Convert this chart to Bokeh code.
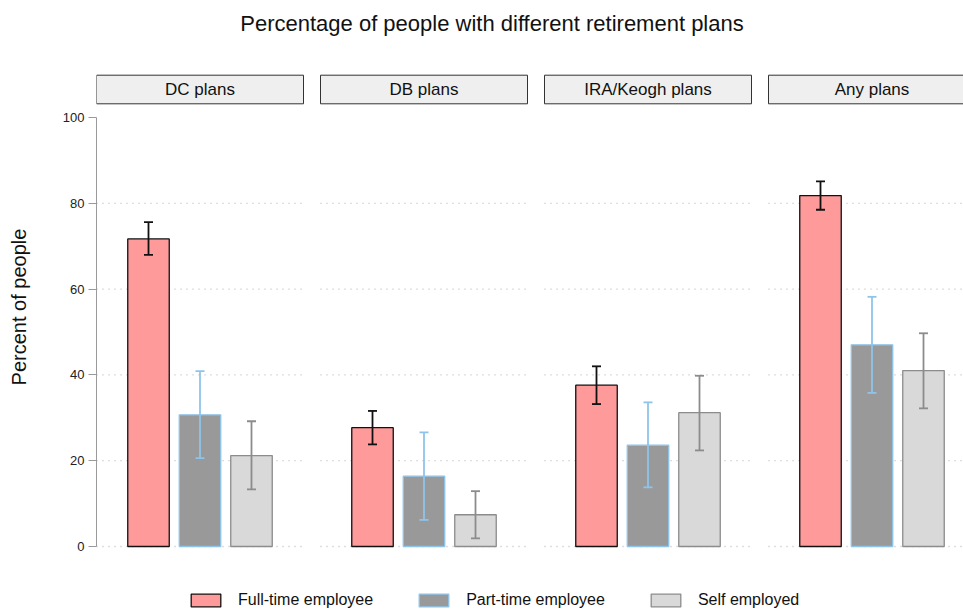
from bokeh.plotting import figure
from bokeh.models import Range1d, FixedTicker, Legend, LegendItem, ColumnDataSource
from bokeh.core.properties import value
from bokeh.embed import file_html
from bokeh.resources import INLINE

# ---- data -------------------------------------------------------------
plans = ["DC plans", "DB plans", "IRA/Keogh plans", "Any plans"]
groups = ["Full-time employee", "Part-time employee", "Self employed"]

full_time = [71.7, 27.7, 37.6, 81.8]
full_time_lo = [68.0, 23.8, 33.2, 78.5]
full_time_hi = [75.6, 31.6, 42.0, 85.1]

part_time = [30.7, 16.4, 23.6, 47.0]
part_time_lo = [20.6, 6.2, 13.8, 35.8]
part_time_hi = [40.9, 26.6, 33.6, 58.2]

self_employed = [21.2, 7.4, 31.2, 41.0]
self_employed_lo = [13.3, 1.9, 22.4, 32.2]
self_employed_hi = [29.2, 12.9, 39.8, 49.7]

y_ticks = [0, 20, 40, 60, 80, 100]

# ---- layout (pixels -> data units) ------------------------------------
W, H = 963, 613
LEFT = 96                 # frame starts where the y axis sits
PX_PER_FACET = 224.0      # distance between facet centres
FACET0_PX = 199.5         # centre of first facet
PX_PER_UNIT = 4.29        # vertical scale
ZERO_PX = 546             # pixel row of y = 0


def xd(px):
    return (px - FACET0_PX) / PX_PER_FACET


def yd(py):
    return (ZERO_PX - py) / PX_PER_UNIT


HALF_PANEL = 103.5 / PX_PER_FACET
BAR_STEP = 51.5 / PX_PER_FACET
BAR_W = 41.5 / PX_PER_FACET
CAP_HALF = 4.5 / PX_PER_FACET

FONT = "Liberation Sans"

p = figure(width=W, height=H, output_backend="svg", toolbar_location=None,
           x_range=Range1d(xd(LEFT), xd(W)), y_range=Range1d(yd(H), yd(0)),
           min_border_left=LEFT, min_border_right=0, min_border_top=0,
           min_border_bottom=0)
p.outline_line_color = None
p.background_fill_color = "white"
p.border_fill_color = "white"
p.xaxis.visible = False
p.xgrid.visible = False
p.ygrid.visible = False

yax = p.yaxis[0]
yax.ticker = FixedTicker(ticks=y_ticks)
yax.bounds = (0, 100)
yax.axis_line_color = "#9a9a9a"
yax.major_tick_line_color = "#9a9a9a"
yax.major_tick_out = 8
yax.major_tick_in = 0
yax.minor_tick_line_color = None
yax.major_label_text_font = FONT
yax.major_label_text_font_size = "13px"
yax.major_label_text_color = "#222222"
yax.major_label_standoff = 4
yax.axis_label = "Percent of people"
yax.axis_label_text_font = FONT
yax.axis_label_text_font_size = "20px"
yax.axis_label_text_font_style = "normal"
yax.axis_label_text_color = "#111111"
yax.axis_label_standoff = 30

facet_idx = list(range(len(plans)))

# dotted horizontal guides inside each facet
gx0, gx1, gy = [], [], []
for k in facet_idx:
    for t in y_ticks:
        if t < 100:
            gx0.append(k - HALF_PANEL)
            gx1.append(k + HALF_PANEL)
            gy.append(t)
p.segment(x0=gx0, x1=gx1, y0=gy, y1=gy, line_color="#bdbdbd",
          line_width=1.3, line_dash="1 5")

# facet strips
p.quad(left=[k - HALF_PANEL for k in facet_idx],
       right=[k + HALF_PANEL for k in facet_idx],
       top=[yd(74.7)] * len(plans), bottom=[yd(103.3)] * len(plans),
       fill_color="#efefef", line_color="#333333", line_width=1)
p.text(x=facet_idx, y=[yd(89)] * len(plans), text=plans,
       text_font=value(FONT), text_font_size="17px", text_align="center",
       text_baseline="middle", text_color="#111111")

# bars with error bars
series = [
    (full_time, full_time_lo, full_time_hi, "#ff9a9a", "#111111", "#111111"),
    (part_time, part_time_lo, part_time_hi, "#999999", "#8ec4ea", "#8ec4ea"),
    (self_employed, self_employed_lo, self_employed_hi, "#d9d9d9", "#8c8c8c", "#8c8c8c"),
]
items = []
for j, (vals, lo, hi, fill, edge, err_col) in enumerate(series):
    xs = [k + (j - 1) * BAR_STEP for k in facet_idx]
    src = ColumnDataSource(dict(x=xs, top=vals, lo=lo, hi=hi,
                                cl=[x - CAP_HALF for x in xs],
                                cr=[x + CAP_HALF for x in xs]))
    r = p.vbar(x="x", top="top", bottom=0, width=BAR_W, source=src,
               fill_color=fill, line_color=edge, line_width=1.3)
    p.segment(x0="x", x1="x", y0="lo", y1="hi", source=src,
              line_color=err_col, line_width=1.8)
    p.segment(x0="cl", x1="cr", y0="hi", y1="hi", source=src,
              line_color=err_col, line_width=1.8)
    p.segment(x0="cl", x1="cr", y0="lo", y1="lo", source=src,
              line_color=err_col, line_width=1.8)
    items.append(LegendItem(label=groups[j], renderers=[r]))

legend = Legend(items=items, orientation="horizontal",
                location=(187 - LEFT, 4), padding=0, margin=0,
                spacing=42, glyph_width=37, glyph_height=16,
                label_height=16, label_standoff=14,
                label_text_font=FONT, label_text_font_size="16px",
                label_text_color="#111111", label_text_baseline="middle",
                border_line_color=None, background_fill_alpha=0)
p.add_layout(legend, "center")

# chart title
p.text(x=[xd(491.5)], y=[yd(23)], text=["Percentage of people with different retirement plans"],
       text_font=value(FONT), text_font_size="22px", text_align="center",
       text_baseline="middle", text_color="#111111")

open("out.html", "w").write(file_html(p, INLINE))
